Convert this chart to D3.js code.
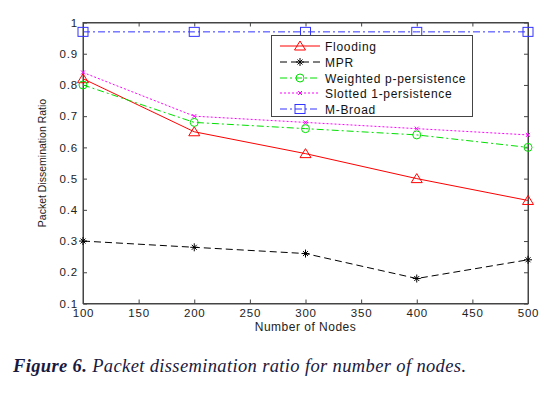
<!DOCTYPE html>
<html><head><meta charset="utf-8">
<script src="https://cdn.jsdelivr.net/npm/d3@7"></script>
<style>body{margin:0;background:#fff}svg{display:block}</style>
</head><body>
<svg id="c" width="559" height="402"></svg>
<script>
const nodes = [100, 200, 300, 400, 500];
const flooding = [0.82, 0.65, 0.58, 0.50, 0.43];
const mpr = [0.30, 0.28, 0.26, 0.18, 0.24];
const weighted = [0.80, 0.68, 0.66, 0.64, 0.60];
const slotted = [0.84, 0.70, 0.68, 0.66, 0.64];
const mbroad = [0.97, 0.97, 0.97, 0.97, 0.97];
const seriesNames = ["Flooding", "MPR", "Weighted p-persistence", "Slotted 1-persistence", "M-Broad"];
const xTicks = [100, 150, 200, 250, 300, 350, 400, 450, 500];
const yTicks = [0.1, 0.2, 0.3, 0.4, 0.5, 0.6, 0.7, 0.8, 0.9, 1];

const svg = d3.select("#c");
const L = 83, R = 528, T = 22.5, B = 303.5;
const x = d3.scaleLinear().domain([100, 500]).range([L, R]);
const y = d3.scaleLinear().domain([0.1, 1]).range([B, T]);
const font = "'Liberation Sans', Arial, sans-serif";

const styles = [
  {data: flooding, color: "#ff0000", dash: null, marker: "tri"},
  {data: mpr, color: "#000000", dash: "7,4", marker: "star"},
  {data: weighted, color: "#00e000", dash: "7,3,2,3", marker: "circ"},
  {data: slotted, color: "#ff00ff", dash: "2,2", marker: "x"},
  {data: mbroad, color: "#3333ff", dash: "7,3,2,3", marker: "sq"}
];

const ax = svg.append("g");
ax.append("rect").attr("x", L).attr("y", T).attr("width", R - L).attr("height", B - T)
  .attr("fill", "none").attr("stroke", "#444").attr("stroke-width", 1);

const gx = svg.append("g").attr("transform", `translate(0,${B})`)
  .call(d3.axisBottom(x).tickValues(xTicks).tickSizeInner(-4).tickSizeOuter(0).tickPadding(5));
const gxt = svg.append("g").attr("transform", `translate(0,${T})`)
  .call(d3.axisTop(x).tickValues(xTicks).tickSizeInner(-4).tickSizeOuter(0).tickFormat(""));
const gy = svg.append("g").attr("transform", `translate(${L},0)`)
  .call(d3.axisLeft(y).tickValues(yTicks).tickSizeInner(-4).tickSizeOuter(0).tickPadding(5)
    .tickFormat(d => d === 1 ? "1" : d3.format(".1f")(d)));
const gyr = svg.append("g").attr("transform", `translate(${R},0)`)
  .call(d3.axisRight(y).tickValues(yTicks).tickSizeInner(-4).tickSizeOuter(0).tickFormat(""));
[gx, gxt, gy, gyr].forEach(g => {
  g.select(".domain").attr("stroke", "#444");
  g.selectAll(".tick line").attr("stroke", "#444");
  g.selectAll("text").attr("font-family", font).attr("font-size", 11.5).attr("letter-spacing", 0.8).attr("fill", "#222");
});

svg.append("text").attr("x", (L + R) / 2).attr("y", 331).attr("text-anchor", "middle")
  .attr("font-family", font).attr("font-size", 12).attr("letter-spacing", 0.5).attr("fill", "#222").text("Number of Nodes");
svg.append("text").attr("transform", `translate(46,${(T + B) / 2}) rotate(-90)`).attr("text-anchor", "middle")
  .attr("font-family", font).attr("font-size", 10.5).attr("fill", "#222").text("Packet Dissemination Ratio");

function drawMarker(g, type, cx, cy, color) {
  if (type === "tri") {
    g.append("path").attr("d", `M${cx},${cy - 5}L${cx + 5.5},${cy + 4}L${cx - 5.5},${cy + 4}Z`)
      .attr("fill", "none").attr("stroke", color).attr("stroke-width", 1);
  } else if (type === "star") {
    g.append("path").attr("d", `M${cx - 4},${cy}H${cx + 4}M${cx},${cy - 4}V${cy + 4}M${cx - 2.5},${cy - 2.5}L${cx + 2.5},${cy + 2.5}M${cx - 2.5},${cy + 2.5}L${cx + 2.5},${cy - 2.5}`)
      .attr("stroke", color).attr("stroke-width", 1);
  } else if (type === "circ") {
    g.append("circle").attr("cx", cx).attr("cy", cy).attr("r", 4).attr("fill", "none").attr("stroke", color).attr("stroke-width", 1);
  } else if (type === "x") {
    g.append("path").attr("d", `M${cx - 2},${cy - 2}L${cx + 2},${cy + 2}M${cx - 2},${cy + 2}L${cx + 2},${cy - 2}`)
      .attr("stroke", color).attr("stroke-width", 1);
  } else if (type === "sq") {
    g.append("rect").attr("x", cx - 5).attr("y", cy - 4.5).attr("width", 10).attr("height", 9)
      .attr("fill", "none").attr("stroke", color).attr("stroke-width", 1);
  }
}

const line = d3.line().x((d, i) => x(nodes[i])).y(d => y(d));
const plot = svg.append("g");
styles.forEach(s => {
  plot.append("path").datum(s.data).attr("d", line).attr("fill", "none")
    .attr("stroke", s.color).attr("stroke-width", 1).attr("stroke-dasharray", s.dash);
  s.data.forEach((v, i) => drawMarker(plot, s.marker, x(nodes[i]), y(v), s.color));
});

const lg = svg.append("g");
lg.append("rect").attr("x", 271.5).attr("y", 35.5).attr("width", 201).attr("height", 81)
  .attr("fill", "#fff").attr("stroke", "#444").attr("stroke-width", 1);
const legY = [46, 62, 78, 93, 109];
styles.forEach((s, i) => {
  lg.append("line").attr("x1", 280).attr("x2", 320).attr("y1", legY[i]).attr("y2", legY[i])
    .attr("stroke", s.color).attr("stroke-width", 1).attr("stroke-dasharray", s.dash);
  drawMarker(lg, s.marker, 300, legY[i], s.color);
  lg.append("text").attr("x", 325).attr("y", legY[i] + 4.5).attr("font-family", font)
    .attr("font-size", 12).attr("letter-spacing", 0.7).attr("fill", "#111").text(seriesNames[i]);
});

const cap = svg.append("text").attr("x", 13).attr("y", 372).attr("font-family", "'Liberation Serif', 'Times New Roman', serif")
  .attr("font-size", 18.5).attr("font-style", "italic").attr("fill", "#1a1a40")
  .attr("textLength", 453).attr("lengthAdjust", "spacing");
cap.append("tspan").attr("font-weight", "bold").text("Figure 6.");
cap.append("tspan").text(" Packet dissemination ratio for number of nodes.");
</script>
</body></html>
